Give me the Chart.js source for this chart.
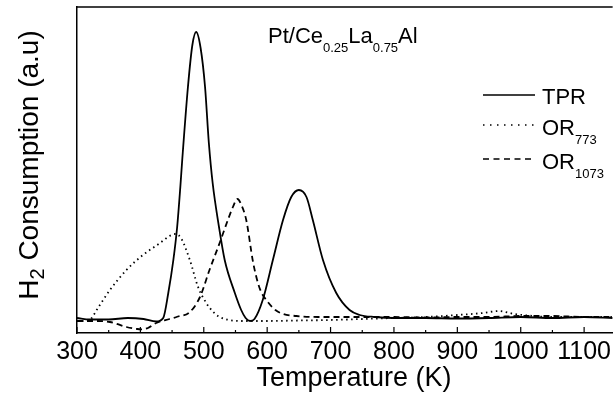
<!DOCTYPE html>
<html>
<head>
<meta charset="utf-8">
<script src="https://cdn.jsdelivr.net/npm/chart.js@4.4.1/dist/chart.umd.min.js"></script>
<style>
  html, body { margin: 0; padding: 0; background: #fff; }
  #wrap { width: 615px; height: 397px; }
</style>
</head>
<body>
<div id="wrap"><canvas id="tprChart" width="615" height="397"></canvas></div>
<script>
// temperatures (K) and H2 signal (arbitrary units)
const tprT = [300, 320, 350, 380, 405, 425, 436, 444, 452, 458, 463, 466, 475, 482, 488, 495, 502, 508, 514, 524, 533, 549, 559, 566, 573, 580, 593, 609, 625, 638, 650, 662, 672, 688, 709, 730, 746, 770, 800, 850, 900, 950, 1000, 1050, 1100, 1145];
const tprH = [15, 13.5, 13.5, 15, 14, 11.5, 15, 40, 73, 106, 146, 173, 246, 288, 301, 285, 246, 190, 150, 106, 73, 40, 23, 15, 12, 14, 33, 73, 113, 136, 143, 136, 113, 73, 40, 23, 18, 16, 15, 15, 14.5, 15, 16, 15, 16, 15];

const or773T = [300, 315, 322, 331, 352, 378, 404, 431, 446, 455, 464, 478, 491, 504, 515, 525, 540, 557, 600, 650, 700, 750, 800, 850, 900, 940, 965, 990, 1020, 1050, 1100, 1145];
const or773H = [12, 12, 14, 23, 43, 63, 78, 90, 97, 99, 95, 73, 46, 30, 21, 16, 13, 12, 12, 12.5, 13, 14, 15, 16, 18, 20, 22, 19, 17, 16, 16, 16];

const or1073T = [300, 325, 352, 378, 395, 402, 412, 425, 446, 457, 478, 494, 509, 525, 538, 546, 553, 560, 567, 578, 588, 601, 613, 625, 646, 680, 720, 800, 850, 900, 950, 1000, 1050, 1100, 1145];
const or1073H = [12, 12, 11, 6, 4, 3.7, 5, 10, 14, 16, 21, 36, 63, 90, 113, 126, 134, 127, 113, 70, 45, 31, 23, 19, 17, 16, 16, 16, 15.5, 16, 16, 17, 17, 16, 16];

const xTickLabels = [300, 400, 500, 600, 700, 800, 900, 1000, 1100];
const xMinorTicks = [350, 450, 550, 650, 750, 850, 950, 1050];

const FONT = "'Liberation Sans', Arial, sans-serif";

function pts(xs, ys) {
  return xs.map((x, i) => ({ x: x, y: ys[i] }));
}

// text with subscripts, baseline at y; returns end x
function subText(ctx, x, y, parts, size, subSize, subDrop) {
  let cx = x;
  parts.forEach((p) => {
    ctx.font = (p.sub ? subSize : size) + "px " + FONT;
    ctx.fillText(p.t, cx, p.sub ? y + subDrop : y);
    cx += ctx.measureText(p.t).width;
  });
  return cx;
}

const decorations = {
  id: "decorations",
  afterDraw(chart) {
    const ctx = chart.ctx;
    const a = chart.chartArea;
    const xs = chart.scales.x;
    ctx.save();
    ctx.strokeStyle = "#000";
    ctx.fillStyle = "#000";

    // top frame line
    ctx.lineWidth = 1.5;
    ctx.beginPath();
    ctx.moveTo(a.left, a.top);
    ctx.lineTo(a.right, a.top);
    ctx.stroke();

    // inward ticks
    ctx.lineWidth = 1.2;
    xTickLabels.forEach((v) => {
      const px = xs.getPixelForValue(v);
      ctx.beginPath();
      ctx.moveTo(px, a.bottom);
      ctx.lineTo(px, a.bottom - 6);
      ctx.stroke();
    });
    xMinorTicks.forEach((v) => {
      const px = xs.getPixelForValue(v);
      ctx.beginPath();
      ctx.moveTo(px, a.bottom);
      ctx.lineTo(px, a.bottom - 3);
      ctx.stroke();
    });

    ctx.textBaseline = "alphabetic";
    ctx.textAlign = "left";

    // sample name
    subText(ctx, 268, 43, [
      { t: "Pt/Ce" }, { t: "0.25", sub: true }, { t: "La" }, { t: "0.75", sub: true }, { t: "Al" }
    ], 22, 13, 9);

    // legend
    const rows = [
      { y: 95, base: 104, dash: [], parts: [{ t: "TPR" }] },
      { y: 125, base: 135, dash: [1.5, 5.5], parts: [{ t: "OR" }, { t: "773", sub: true }] },
      { y: 159, base: 169, dash: [6, 4.5], parts: [{ t: "OR" }, { t: "1073", sub: true }] },
    ];
    rows.forEach((r) => {
      ctx.lineWidth = 1.5;
      ctx.setLineDash(r.dash);
      ctx.beginPath();
      ctx.moveTo(483, r.y);
      ctx.lineTo(535, r.y);
      ctx.stroke();
      ctx.setLineDash([]);
      subText(ctx, 542, r.base, r.parts, 22, 13, 9);
    });

    // x axis title
    ctx.font = "27px " + FONT;
    ctx.textAlign = "center";
    ctx.fillText("Temperature (K)", 354, 386);
    ctx.textAlign = "left";

    // y axis title, rotated
    ctx.translate(38, 165);
    ctx.rotate(-Math.PI / 2);
    const parts = [{ t: "H" }, { t: "2", sub: true }, { t: " Consumption (a.u)" }];
    let w = 0;
    parts.forEach((p) => {
      ctx.font = (p.sub ? 20 : 28) + "px " + FONT;
      w += ctx.measureText(p.t).width;
    });
    subText(ctx, -w / 2, 0, parts, 28, 20, 6);
    ctx.restore();
  },
};

const ctx = document.getElementById("tprChart").getContext("2d");

new Chart(ctx, {
  type: "line",
  data: {
    datasets: [
      {
        label: "TPR",
        data: pts(tprT, tprH),
        borderColor: "#000",
        borderWidth: 1.8,
      },
      {
        label: "OR773",
        data: pts(or773T, or773H),
        borderColor: "#000",
        borderWidth: 1.8,
        borderDash: [1.5, 3.5],
      },
      {
        label: "OR1073",
        data: pts(or1073T, or1073H),
        borderColor: "#000",
        borderWidth: 1.8,
        borderDash: [6, 4],
      },
    ],
  },
  options: {
    responsive: false,
    animation: false,
    layout: { padding: { top: 7, right: 0, left: 0, bottom: 0 } },
    elements: {
      point: { radius: 0 },
      line: { cubicInterpolationMode: "monotone", fill: false },
    },
    scales: {
      x: {
        type: "linear",
        min: 300,
        max: 1145,
        afterBuildTicks: (s) => {
          s.ticks = xTickLabels.map((v) => ({ value: v }));
        },
        afterFit: (s) => {
          s.height = 64;
        },
        grid: { display: false, drawTicks: false },
        border: { display: true, color: "#000", width: 1.5 },
        ticks: {
          color: "#000",
          padding: 4,
          maxRotation: 0,
          autoSkip: false,
          font: { family: FONT, size: 25 },
          callback: (v) => String(v),
        },
      },
      y: {
        min: 0,
        max: 326,
        afterFit: (s) => {
          s.width = 77;
        },
        grid: { display: false, drawTicks: false },
        border: { display: true, color: "#000", width: 1.5 },
        ticks: { display: false },
      },
    },
    plugins: {
      legend: { display: false },
      tooltip: { enabled: false },
    },
  },
  plugins: [decorations],
});
</script>
</body>
</html>
